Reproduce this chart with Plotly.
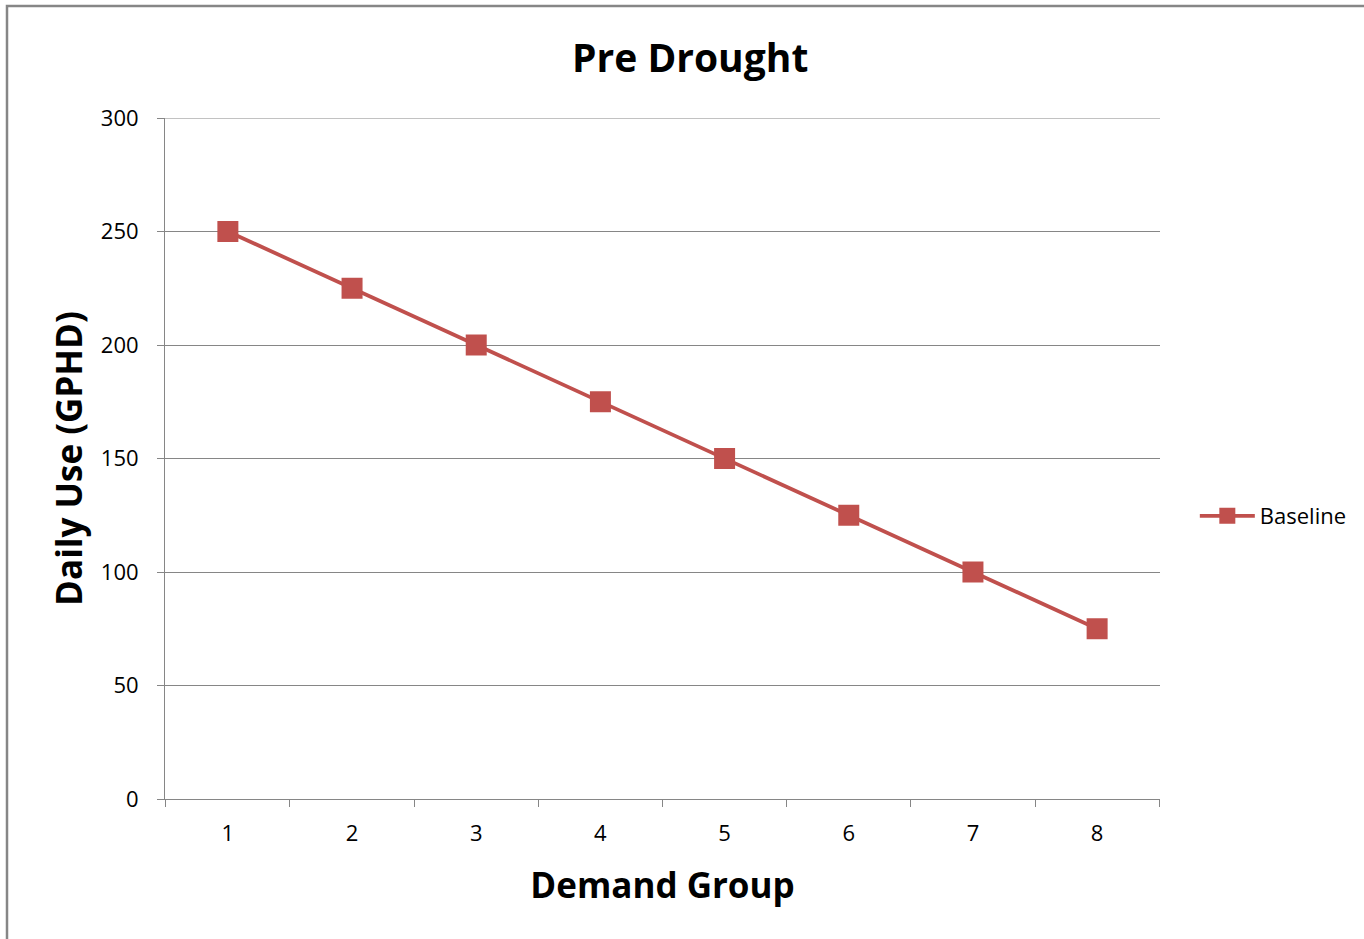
import plotly.graph_objects as go

# Daily use per demand group before the drought
demand_groups = ["1", "2", "3", "4", "5", "6", "7", "8"]
baseline_use = [250, 225, 200, 175, 150, 125, 100, 75]
y_ticks = [0, 50, 100, 150, 200, 250, 300]

RED = "#C0504D"
GRID = "#868686"
FONT = "Open Sans, Liberation Sans, sans-serif"

fig = go.Figure()
fig.add_trace(go.Scatter(
    x=demand_groups,
    y=baseline_use,
    mode="lines+markers",
    name="Baseline",
    line=dict(color=RED, width=3.8),
    marker=dict(symbol="square", size=21, color=RED),
))

fig.update_layout(
    width=1364,
    height=939,
    margin=dict(l=165, r=204, t=118, b=140),
    paper_bgcolor="white",
    plot_bgcolor="white",
    font=dict(family=FONT, color="#000000", size=22),
    title=dict(
        text="<b>Pre Drought</b>",
        font=dict(family=FONT, size=39, color="#000000"),
        x=0.506, xref="container", xanchor="center",
        y=1 - 58 / 939, yref="container", yanchor="middle",
    ),
    showlegend=True,
    legend=dict(
        x=1.035, y=(799 - 516) / 681, xanchor="left", yanchor="middle",
        font=dict(family=FONT, size=22, color="#000000"),
        bgcolor="rgba(0,0,0,0)", itemwidth=55,
    ),
    xaxis=dict(
        type="category",
        tickson="boundaries",
        ticks="outside", ticklen=7, tickcolor=GRID, tickwidth=1,
        showline=True, linecolor=GRID, linewidth=1,
        showgrid=False, zeroline=False,
        ticklabelstandoff=15,
        tickfont=dict(family=FONT, size=22, color="#000000"),
        title=dict(text="<b>Demand Group</b>",
                   font=dict(family=FONT, size=35, color="#000000"),
                   standoff=27),
    ),
    yaxis=dict(
        range=[0, 300],
        tickvals=y_ticks,
        ticks="outside", ticklen=7, tickcolor=GRID, tickwidth=1,
        showline=True, linecolor=GRID, linewidth=1,
        showgrid=True, gridcolor=GRID, gridwidth=1,
        zeroline=False,
        ticklabelstandoff=14,
        tickfont=dict(family=FONT, size=22, color="#000000"),
        title=dict(text="<b>Daily Use (GPHD)</b>",
                   font=dict(family=FONT, size=35, color="#000000"),
                   standoff=7),
    ),
    shapes=[
        # top gridline at the range edge
        dict(type="line", xref="paper", yref="y",
             x0=0, x1=1, y0=300, y1=300,
             line=dict(color=GRID, width=1), layer="below"),
        # chart-area border
        dict(type="rect", xref="paper", yref="paper",
             x0=(7 - 165) / 995, x1=1.3,
             y0=-0.4, y1=(799 - 6) / 681,
             line=dict(color="#868686", width=2.5),
             fillcolor="rgba(0,0,0,0)", layer="below"),
    ],
)

fig.write_html("out.html")
